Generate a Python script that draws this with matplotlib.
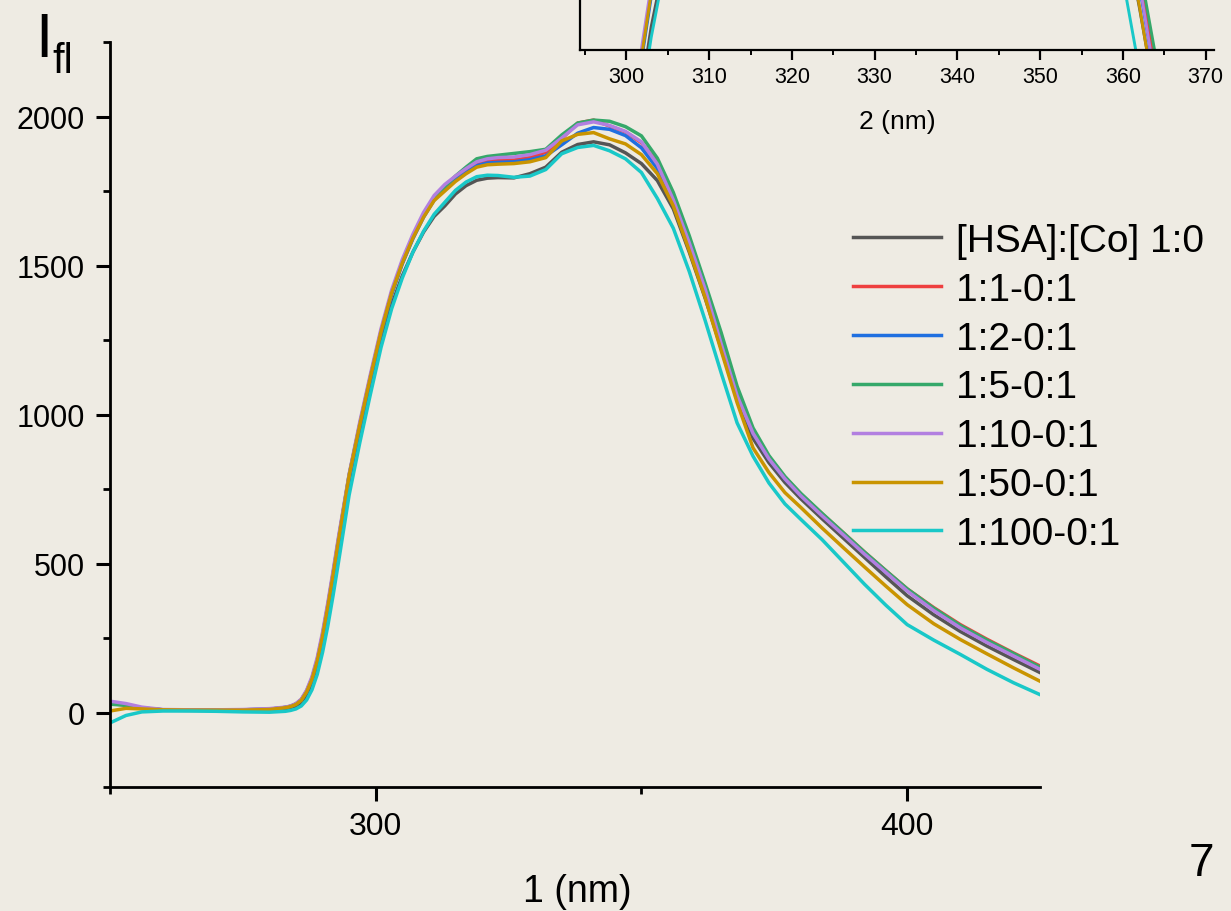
import matplotlib
matplotlib.use("Agg")
import matplotlib.pyplot as plt
from matplotlib.ticker import MultipleLocator

plt.rcParams['font.family'] = ['Liberation Sans', 'DejaVu Sans']

# wavelength (nm) and fluorescence intensity
wavelength = [250, 253, 256, 260, 265, 270, 275, 280,
              283, 284, 285, 286, 287, 288, 289, 290, 291, 292, 293,
              295, 297, 299, 301, 303, 305, 307, 309, 311,
              313, 315, 317, 319, 321, 323, 326, 329, 332, 335, 338, 341, 344, 347, 350,
              353, 356, 359, 362, 365, 368, 371, 374, 377, 380,
              384, 388, 392, 396, 400, 405, 410, 415, 420, 425]

hsa_co_1_0 = [33, 26, 14, 8, 7, 7, 8, 9,
              12, 15, 20, 30, 52, 88, 142, 218, 310, 415, 525,
              750, 925, 1085, 1240, 1368, 1465, 1545, 1612, 1665,
              1700, 1740, 1768, 1786, 1793, 1795, 1794, 1808, 1830, 1880, 1906, 1915, 1905, 1878, 1842,
              1785, 1690, 1545, 1390, 1222, 1050, 920, 838, 772, 717,
              650, 585, 520, 455, 392, 328, 272, 223, 178, 134]
ratio_1_1 = [30, 25, 15, 9, 8, 8, 9, 11,
             17, 21, 29, 43, 71, 114, 176, 260, 360, 468, 580,
             795, 965, 1125, 1278, 1408, 1510, 1595, 1667, 1725,
             1765, 1795, 1820, 1842, 1852, 1853, 1854, 1862, 1880, 1925, 1978, 1988, 1968, 1948, 1912,
             1845, 1730, 1585, 1428, 1255, 1075, 945, 858, 790, 733,
             667, 603, 538, 476, 415, 352, 295, 246, 200, 156]
ratio_1_2 = [32, 26, 15, 9, 8, 8, 9, 11,
             17, 21, 28, 42, 70, 112, 173, 256, 355, 462, 575,
             790, 960, 1120, 1273, 1403, 1505, 1590, 1662, 1720,
             1760, 1788, 1812, 1835, 1844, 1846, 1848, 1855, 1868, 1905, 1944, 1963, 1957, 1936, 1895,
             1825, 1715, 1570, 1415, 1240, 1065, 937, 851, 784, 728,
             662, 598, 533, 471, 410, 345, 287, 238, 192, 148]
ratio_1_5 = [28, 24, 14, 9, 8, 8, 9, 11,
             17, 21, 29, 43, 72, 115, 178, 262, 362, 470, 583,
             798, 968, 1128, 1280, 1410, 1512, 1598, 1670, 1728,
             1765, 1800, 1830, 1858, 1866, 1870, 1876, 1882, 1890, 1938, 1978, 1988, 1984, 1966, 1935,
             1860, 1745, 1600, 1440, 1275, 1095, 955, 862, 792, 735,
             668, 603, 538, 476, 415, 350, 292, 243, 198, 152]
ratio_1_10 = [38, 30, 18, 10, 9, 9, 10, 13,
              18, 22, 30, 45, 75, 120, 185, 270, 370, 478, 590,
              800, 975, 1135, 1288, 1418, 1520, 1605, 1678, 1735,
              1772, 1800, 1825, 1848, 1858, 1862, 1864, 1872, 1887, 1928, 1972, 1982, 1970, 1950, 1915,
              1840, 1720, 1576, 1420, 1237, 1063, 937, 851, 784, 727,
              660, 596, 531, 470, 408, 342, 284, 235, 190, 145]
ratio_1_50 = [5, 14, 12, 9, 8, 8, 8, 10,
              16, 20, 27, 41, 69, 111, 173, 256, 356, 464, 577,
              795, 965, 1125, 1278, 1408, 1508, 1592, 1662, 1718,
              1750, 1782, 1808, 1830, 1838, 1840, 1842, 1848, 1862, 1918, 1940, 1946, 1925, 1908, 1872,
              1808, 1700, 1550, 1392, 1215, 1040, 888, 805, 738, 688,
              619, 553, 488, 424, 362, 298, 245, 197, 150, 105]
ratio_1_100 = [-35, -10, 2, 5, 5, 4, 2, 1,
               4, 7, 12, 22, 42, 76, 128, 202, 292, 395, 505,
               730, 905, 1068, 1225, 1355, 1458, 1545, 1615, 1672,
               1712, 1752, 1780, 1798, 1803, 1802, 1796, 1800, 1822, 1875, 1896, 1903, 1885, 1858, 1812,
               1725, 1625, 1480, 1315, 1140, 972, 860, 770, 700, 648,
               580, 505, 430, 360, 295, 243, 195, 145, 100, 60]

series = [hsa_co_1_0, ratio_1_1, ratio_1_2, ratio_1_5, ratio_1_10, ratio_1_50, ratio_1_100]
labels = ['[HSA]:[Co] 1:0', '1:1-0:1', '1:2-0:1', '1:5-0:1', '1:10-0:1', '1:50-0:1', '1:100-0:1']
colors = ['#555555', '#EE3F3F', '#1F6FE0', '#35A86A', '#B27FE0', '#C99400', '#19C8C8']

bg = '#EEEBE3'
W, H = 1231, 912

fig = plt.figure(figsize=(W / 100, H / 100), dpi=100)
fig.patch.set_facecolor(bg)

# main axes
ax = fig.add_axes([110 / W, 1 - 788 / H, 930 / W, 745 / H])
ax.set_facecolor('none')
for y, lab, c in zip(series, labels, colors):
    ax.plot(wavelength, y, color=c, lw=2.5, label=lab)

ax.set_xlim(250, 425)
ax.set_ylim(-250, 2250)
ax.xaxis.set_major_locator(MultipleLocator(100))
ax.xaxis.set_minor_locator(MultipleLocator(50))
ax.yaxis.set_major_locator(MultipleLocator(500))
ax.yaxis.set_minor_locator(MultipleLocator(250))
for s in ['top', 'right']:
    ax.spines[s].set_visible(False)
for s in ['left', 'bottom']:
    ax.spines[s].set_linewidth(2.0)
ax.tick_params(axis='both', which='major', direction='out', length=10, width=2.2)
ax.tick_params(axis='both', which='minor', direction='out', length=5, width=2.0)
ax.tick_params(axis='y', which='major', labelsize=22, pad=8)
ax.tick_params(axis='x', which='major', labelsize=23, pad=7)

leg = ax.legend(loc='upper left', bbox_to_anchor=(853 / W, 1 - 224 / H),
                bbox_transform=fig.transFigure, frameon=False, fontsize=28,
                handlelength=2.25, handletextpad=0.4, labelspacing=0.33,
                borderpad=0, borderaxespad=0)
for line in leg.get_lines():
    line.set_linewidth(2.5)

# inset (only its lower part falls inside the figure)
axin = fig.add_axes([580 / W, 1 - 51 / H, 634 / W, 600 / H])
axin.set_facecolor('none')
for y, c in zip(series, colors):
    axin.plot(wavelength, y, color=c, lw=2.1)
axin.set_xlim(294.4, 371)
axin.set_ylim(1340, 2060)
axin.xaxis.set_major_locator(MultipleLocator(10))
axin.xaxis.set_minor_locator(MultipleLocator(5))
axin.set_yticks([])
for s in ['top', 'right']:
    axin.spines[s].set_visible(False)
for s in ['left', 'bottom']:
    axin.spines[s].set_linewidth(1.6)
axin.tick_params(axis='x', which='major', direction='out', length=7, width=1.6,
                 labelsize=15.5, pad=4.3)
axin.tick_params(axis='x', which='minor', direction='out', length=3.5, width=1.4)

# labels
fig.text(897 / W, 1 - 129.5 / H, '2 (nm)', ha='center', va='baseline', fontsize=19)
fig.text(577 / W, 1 - 902 / H, '1 (nm)', ha='center', va='baseline', fontsize=27)
fig.text(43.5 / W, 1 - 57 / H, 'I', ha='center', va='baseline', fontsize=45)
fig.text(52 / W, 1 - 73 / H, 'fl', ha='left', va='baseline', fontsize=30)
fig.text(1201 / W, 1 - 876 / H, '7', ha='center', va='baseline', fontsize=33)

fig.savefig('out.png', dpi=100, facecolor=bg)
